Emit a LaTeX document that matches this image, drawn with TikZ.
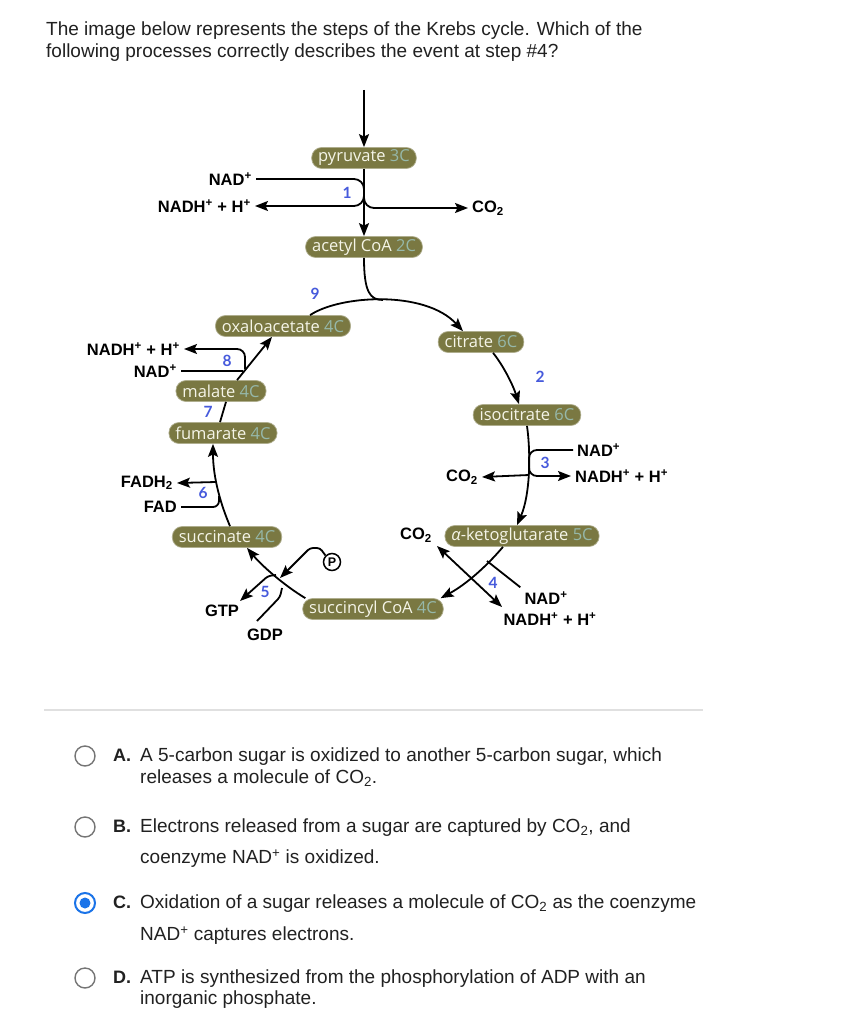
\documentclass[tikz,border=0pt]{standalone}
\usepackage{fontspec}
\setmainfont{Liberation Sans}
\newfontfamily\boxfont{Open Sans}
\newfontfamily\numfont{Lato}
\usetikzlibrary{
  arrows.meta,
}
\definecolor{boxolive}{RGB}{122,120,66}
\definecolor{boxtext}{RGB}{245,245,232}
\definecolor{carbtxt}{RGB}{150,184,170}
\definecolor{stepblue}{RGB}{70,90,220}
\definecolor{radioblue}{RGB}{26,115,232}
\definecolor{radiogray}{RGB}{117,117,117}
\definecolor{inktext}{RGB}{33,33,33}
\definecolor{rulegray}{RGB}{224,224,224}
\tikzset{
  >={Stealth[length=13pt,width=10pt,inset=2.5pt]},
  box/.style={rounded corners=10pt, fill=boxolive, draw=boxolive!60!white, line width=0.7pt,
    text=boxtext, font=\boxfont\fontsize{16.5}{16.5}\selectfont, inner xsep=6.5pt, inner ysep=0pt,
    minimum height=21pt},
  lbl/.style={font=\fontsize{16.5}{16.5}\selectfont\bfseries, text=black, inner sep=4pt},
  stepno/.style={font=\numfont\fontsize{15.5}{15.5}\selectfont\bfseries, text=stepblue, inner sep=0pt},
  feed/.style={draw, line width=1.8pt},
  flow/.style={feed, ->},
  radio/.style={circle, draw=radiogray, line width=1.4pt, minimum size=20pt, inner sep=0pt},
  answer/.style={anchor=west, font=\fontsize{19}{19}\selectfont, text=inktext, inner sep=0pt,
    text height=13pt, text depth=4pt},
  question/.style={answer, font=\fontsize{19}{19}\selectfont},
}
\newcommand\carb[1]{\textcolor{carbtxt}{#1}}

\begin{document}
\begin{tikzpicture}[x=1pt, y=-1pt]
  \useasboundingbox[fill=white] (0,0) rectangle (848,1024);

  \node [question] (q1) at (46,31) {The image below represents the steps of the Krebs cycle. Which of the};
  \node [question] (q2) at (46,53) {following processes correctly describes the event at step \#4?};

  \node [box] (pyr)  at (364,158) {pyruvate \carb{3C}};
  \node [box] (acoa) at (364,247) {acetyl CoA \carb{2C}};
  \node [box] (oaa)  at (283,326) {oxaloacetate \carb{4C}};
  \node [box] (cit)  at (481,342) {citrate \carb{6C}};
  \node [box] (iso)  at (527,415) {isocitrate \carb{6C}};
  \node [box] (akg)  at (522,536) {{\itshape α}-ketoglutarate \carb{5C}};
  \node [box] (scoa) at (373,609) {succincyl CoA \carb{4C}};
  \node [box] (succ) at (227,537) {succinate \carb{4C}};
  \node [box] (fum)  at (223,433) {fumarate \carb{4C}};
  \node [box] (mal)  at (221,391) {malate \carb{4C}};

  \node [lbl, anchor=east] (nad1)  at (256,179) {NAD\textsuperscript{+}};
  \node [lbl, anchor=east] (nadh1) at (255,206) {NADH\textsuperscript{+} + H\textsuperscript{+}};
  \node [lbl, anchor=west] (co21)  at (468,208) {CO\textsubscript{2}};
  \node [lbl, anchor=west] (nad3)  at (573,450) {NAD\textsuperscript{+}};
  \node [lbl, anchor=west] (nadh3) at (571,476) {NADH\textsuperscript{+} + H\textsuperscript{+}};
  \node [lbl, anchor=east] (co23)  at (482,477) {CO\textsubscript{2}};
  \node [lbl] (co24)  at (416,535) {CO\textsubscript{2}};
  \node [lbl] (nad4)  at (546,598) {NAD\textsuperscript{+}};
  \node [lbl] (nadh4) at (550,619) {NADH\textsuperscript{+} + H\textsuperscript{+}};
  \node [lbl] (gtp)   at (222,611) {GTP};
  \node [lbl] (gdp)   at (265,635) {GDP};
  \node [lbl, anchor=east] (fadh)  at (177,483) {FADH\textsubscript{2}};
  \node [lbl, anchor=east] (fad)   at (181,507) {FAD};
  \node [lbl, anchor=east] (nadh8) at (184,349) {NADH\textsuperscript{+} + H\textsuperscript{+}};
  \node [lbl, anchor=east] (nad8)  at (181,371) {NAD\textsuperscript{+}};
  \node [circle, draw, line width=1.5pt, inner sep=0pt, minimum size=17pt,
    font=\fontsize{12.5}{12.5}\selectfont\bfseries] (pho) at (332,562) {P};

  \node [stepno] (n1) at (347,193) {1};
  \node [stepno] (n2) at (540,377) {2};
  \node [stepno] (n3) at (545,463) {3};
  \node [stepno] (n4) at (493,583) {4};
  \node [stepno] (n5) at (265,592) {5};
  \node [stepno] (n6) at (203,493) {6};
  \node [stepno] (n7) at (208,412) {7};
  \node [stepno] (n8) at (227,361) {8};
  \node [stepno] (n9) at (315,294) {9};

  \coordinate (feedin) at (364,90);
  \coordinate (j1a) at (364,201);
  \coordinate (j1b) at (364,191);
  \coordinate (j9)  at (383,300);
  \coordinate (j3a) at (529,466);
  \coordinate (j3b) at (529,475);
  \coordinate (j3c) at (529,463);
  \coordinate (t4a) at (437,546);
  \coordinate (t4b) at (502,607);
  \coordinate (j4)  at (487,561);
  \coordinate (p5)  at (280,578);
  \coordinate (g5)  at (276,575);
  \coordinate (gtptip) at (240,601);
  \coordinate (gdp5) at (257,621);
  \coordinate (j6a) at (216,482);
  \coordinate (j6b) at (219,496);
  \coordinate (j8a) at (245,369);
  \coordinate (j8b) at (243,371);

  % step 1
  \draw [flow] (feedin) -- (pyr);
  \draw [flow] (pyr) -- (acoa);
  \draw [feed, rounded corners=10pt] (nad1.east) -| (j1a);
  \draw [flow, rounded corners=10pt] (j1b) |- (nadh1.east);
  \draw [flow, rounded corners=10pt] (j1b) |- (co21.west);

  % step 9
  \draw [feed] (acoa) .. controls (364,292) and (370,300) .. (j9);
  \draw [flow] ([xshift=27pt]oaa.north) .. controls (340,295) and (425,290) .. ([xshift=-18pt]cit.north);

  % steps 2 and 3
  \draw [flow] ([xshift=12pt]cit.south) .. controls (503,365) and (513,385) .. ([xshift=-8pt]iso.north);
  \draw [flow] (iso.south) .. controls (531,455) and (530,495) .. ([xshift=-5pt]akg.north);
  \draw [feed, rounded corners=8pt] (nad3.west) -| (j3a);
  \draw [flow, rounded corners=8pt] (j3c) |- (nadh3.west);
  \draw [flow] (j3b) -- (co23.east);

  % step 4
  \draw [flow] ([xshift=-19pt]akg.south) .. controls (485,568) and (465,585) .. ([xshift=-3pt]scoa.north east);
  \draw [feed, <->] (t4a) -- (t4b);
  \draw [feed] (nad4.north west) -- (j4);

  % step 5
  \draw [flow] ([xshift=3pt]scoa.north west) .. controls (285,586) and (262,566) .. ([xshift=20pt]succ.south);
  \draw [flow, rounded corners=3pt] (pho.north west) -- (320,548) -- (310,548) -- (p5);
  \draw [flow, rounded corners=3pt] (g5) -- (268,576) -- (gtptip);
  \draw [feed, rounded corners=3pt] (gdp5) -- (280,597) -- (282,588);

  % steps 6 to 8
  \draw [flow] ([xshift=3pt]succ.north) .. controls (221,505) and (213,478) .. ([xshift=-10pt]fum.south);
  \draw [flow] (j6a) -- (fadh.east);
  \draw [feed, rounded corners=6pt] (fad.east) -| (j6b);
  \draw [feed] ([xshift=-3pt]fum.north) -- ([xshift=5pt]mal.south);
  \draw [flow] ([xshift=16pt]mal.north) -- ([xshift=-11pt]oaa.south);
  \draw [flow, rounded corners=8pt] (j8a) |- (nadh8.east);
  \draw [feed] (nad8.east) -- (j8b);

  \draw [rulegray, line width=1.5pt] (44,710) -- (703,710);

  \node [radio] (ra) at (85,756) {};
  \node [radio] (rb) at (85,827) {};
  \node [radio, draw=radioblue, line width=2pt] (rc) at (85,903) {};
  \node [radio] (rd) at (85,978) {};
  \fill [radioblue] (rc) circle (5.5pt);

  \node [answer, font=\fontsize{18}{18}\selectfont\bfseries] (la) at (113,757) {A.};
  \node [answer] (a1) at (140,757) {A 5-carbon sugar is oxidized to another 5-carbon sugar, which};
  \node [answer] (a2) at (140,779) {releases a molecule of CO\textsubscript{2}.};
  \node [answer, font=\fontsize{18}{18}\selectfont\bfseries] (lb) at (113,828) {B.};
  \node [answer] (b1) at (140,828) {Electrons released from a sugar are captured by CO\textsubscript{2}, and};
  \node [answer] (b2) at (140,859) {coenzyme NAD\textsuperscript{+} is oxidized.};
  \node [answer, font=\fontsize{18}{18}\selectfont\bfseries] (lc) at (113,904) {C.};
  \node [answer] (c1) at (140,904) {Oxidation of a sugar releases a molecule of CO\textsubscript{2} as the coenzyme};
  \node [answer] (c2) at (140,936) {NAD\textsuperscript{+} captures electrons.};
  \node [answer, font=\fontsize{18}{18}\selectfont\bfseries] (ld) at (113,979) {D.};
  \node [answer] (d1) at (140,979) {ATP is synthesized from the phosphorylation of ADP with an};
  \node [answer] (d2) at (140,1000) {inorganic phosphate.};
\end{tikzpicture}
\end{document}
